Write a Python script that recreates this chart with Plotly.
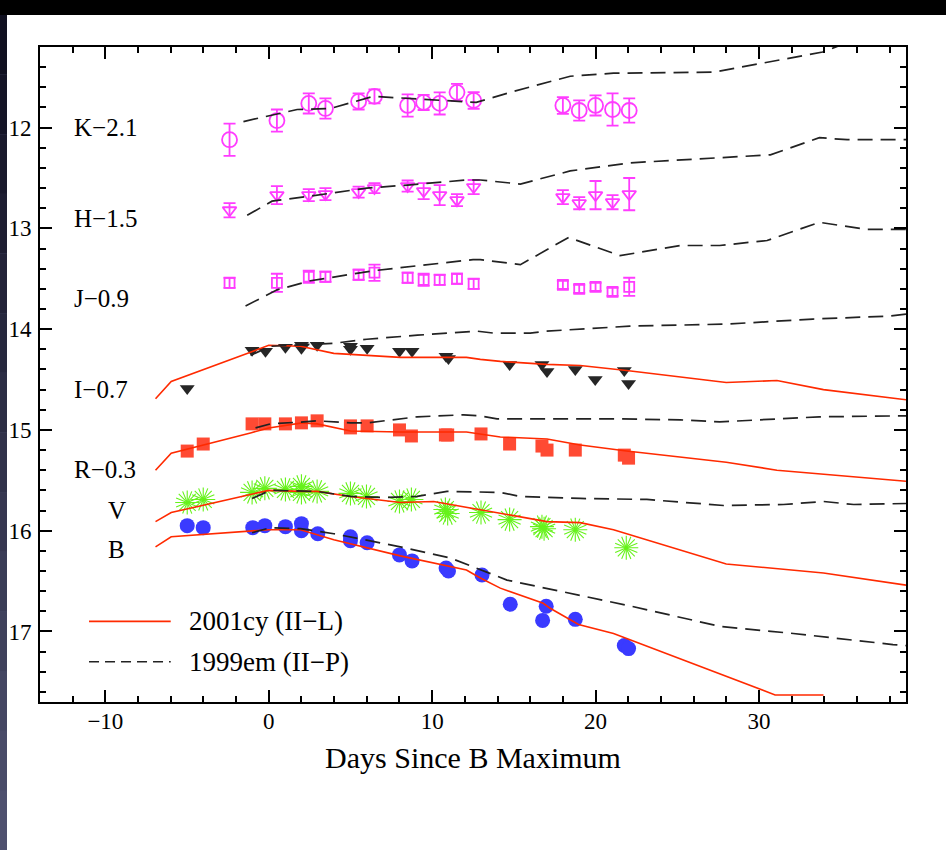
import plotly.graph_objects as go

# ---------------- data ----------------
days_ir = [-2.4, 0.5, 2.45, 3.47, 5.5, 6.47, 8.5, 9.48, 10.46, 11.52, 12.54, 18.0, 19.0, 20.0, 21.04, 22.06]
mag_K = [12.12, 11.93, 11.76, 11.81, 11.74, 11.69, 11.78, 11.75, 11.76, 11.65, 11.73, 11.78, 11.83, 11.78, 11.82, 11.83]
err_K = [0.16, 0.11, 0.10, 0.10, 0.08, 0.07, 0.11, 0.075, 0.11, 0.085, 0.083, 0.083, 0.10, 0.10, 0.16, 0.12]
mag_H = [12.82, 12.67, 12.67, 12.66, 12.64, 12.60, 12.58, 12.63, 12.67, 12.72, 12.59, 12.69, 12.75, 12.67, 12.74, 12.66]
err_H = [0.07, 0.09, 0.06, 0.06, 0.055, 0.05, 0.055, 0.08, 0.10, 0.06, 0.07, 0.07, 0.06, 0.14, 0.07, 0.16]
mag_J = [13.54, 13.54, 13.48, 13.48, 13.46, 13.44, 13.49, 13.51, 13.51, 13.50, 13.55, 13.56, 13.60, 13.58, 13.63, 13.58]
err_J = [0.05, 0.09, 0.06, 0.05, 0.05, 0.08, 0.05, 0.06, 0.05, 0.05, 0.05, 0.04, 0.04, 0.04, 0.04, 0.09]

days_I = [-4.99, -1.02, -0.2, 1.02, 2.0, 2.0, 2.96, 5.0, 5.0, 6.02, 8.0, 8.77, 10.85, 11.0, 14.74, 16.72, 17.03, 18.76, 19.98, 21.76, 22.02]
mag_I = [14.59, 14.21, 14.22, 14.18, 14.16, 14.19, 14.16, 14.17, 14.20, 14.19, 14.22, 14.22, 14.27, 14.29, 14.35, 14.35, 14.42, 14.40, 14.50, 14.41, 14.54]
days_R = [-4.99, -4.01, -1.02, -0.24, 1.02, 2.0, 2.96, 5.0, 5.0, 6.02, 8.0, 8.73, 10.81, 10.95, 12.99, 14.74, 16.72, 17.03, 18.76, 21.76, 22.02]
mag_R = [15.21, 15.14, 14.94, 14.94, 14.94, 14.93, 14.91, 14.96, 14.98, 14.96, 15.00, 15.06, 15.05, 15.05, 15.04, 15.14, 15.16, 15.20, 15.20, 15.25, 15.28]
days_V = [-4.99, -4.01, -1.02, -0.24, 1.02, 2.0, 2.0, 2.96, 5.0, 5.98, 8.0, 8.73, 10.81, 10.95, 12.99, 14.74, 16.72, 16.85, 18.76, 21.88]
mag_V = [15.72, 15.69, 15.62, 15.58, 15.59, 15.56, 15.62, 15.61, 15.63, 15.66, 15.71, 15.69, 15.79, 15.83, 15.82, 15.89, 15.96, 15.98, 15.99, 16.17]
days_B = [-4.99, -4.01, -0.98, -0.24, 1.02, 2.0, 2.0, 3.0, 5.0, 5.0, 6.02, 8.0, 8.77, 10.85, 11.0, 13.05, 14.78, 16.98, 16.76, 18.76, 21.76, 22.02]
mag_B = [15.95, 15.97, 15.97, 15.95, 15.96, 15.93, 16.00, 16.03, 16.06, 16.10, 16.12, 16.24, 16.30, 16.37, 16.40, 16.44, 16.73, 16.75, 16.89, 16.88, 17.14, 17.17]

# 2001cy (II-L) template curves
t01_I = [-6.93, -5.97, -1.12, 0.0, 1.94, 3.98, 8.05, 12.1, 12.95, 14.17, 17.0, 19.06, 21.9, 28.0, 31.1, 33.95, 39.0]
m01_I = [14.69, 14.52, 14.23, 14.16, 14.17, 14.24, 14.28, 14.28, 14.30, 14.32, 14.35, 14.36, 14.41, 14.53, 14.51, 14.60, 14.70]
t01_R = [-6.93, -5.97, -1.12, 0.0, 2.04, 2.96, 5.0, 8.05, 12.1, 12.95, 14.17, 17.03, 19.06, 21.9, 28.0, 31.1, 33.95, 39.0]
m01_R = [15.40, 15.23, 15.03, 14.98, 14.93, 14.94, 15.01, 15.02, 15.02, 15.04, 15.07, 15.09, 15.15, 15.21, 15.32, 15.40, 15.44, 15.51]
t01_V = [-6.93, -5.97, -1.12, 0.0, 1.94, 2.96, 5.0, 8.05, 10.09, 12.95, 14.99, 17.03, 19.06, 21.1, 28.0, 33.95, 39.0]
m01_V = [15.91, 15.82, 15.64, 15.60, 15.61, 15.61, 15.66, 15.72, 15.71, 15.79, 15.85, 15.91, 15.92, 15.99, 16.33, 16.42, 16.54]
t01_B = [-6.93, -5.97, 0.0, 1.94, 3.98, 8.05, 12.1, 12.95, 14.17, 16.8, 17.22, 18.96, 21.1, 30.99, 33.95]
m01_B = [16.16, 16.06, 15.99, 15.99, 16.09, 16.25, 16.39, 16.47, 16.57, 16.72, 16.77, 16.93, 17.02, 17.63, 17.63]

# 1999em (II-P) template curves
t99_K = [-1.55, 1.74, 3.77, 6.4, 12.7, 15.0, 18.45, 21.1, 27.2, 30.3, 33.9, 35.5]
m99_K = [11.94, 11.82, 11.81, 11.69, 11.75, 11.64, 11.49, 11.46, 11.45, 11.36, 11.25, 11.15]
t99_H = [-1.32, 0.2, 2.55, 6.0, 8.5, 12.1, 12.95, 15.4, 18.45, 22.1, 30.7, 33.7, 35.4, 39.0]
m99_H = [12.87, 12.73, 12.68, 12.60, 12.57, 12.52, 12.52, 12.56, 12.43, 12.35, 12.27, 12.10, 12.12, 12.12]
t99_J = [-1.42, 0.51, 2.55, 6.4, 12.5, 12.95, 15.4, 18.35, 21.5, 25.2, 27.6, 30.5, 33.7, 36.6, 39.0]
m99_J = [13.77, 13.61, 13.52, 13.42, 13.31, 13.31, 13.36, 13.09, 13.27, 13.17, 13.17, 13.12, 12.94, 13.01, 13.01]
t99_I = [-1.12, 0.1, 4.0, 6.0, 9.1, 12.75, 13.8, 16.0, 17.0, 22.1, 28.0, 33.3, 38.0, 39.0]
m99_I = [14.26, 14.17, 14.14, 14.10, 14.06, 14.02, 14.04, 14.04, 14.02, 13.97, 13.95, 13.90, 13.87, 13.85]
t99_R = [-0.81, 0.1, 2.14, 2.96, 5.0, 6.02, 9.08, 11.93, 12.95, 13.97, 21.1, 25.2, 27.6, 31.3, 33.7, 39.0]
m99_R = [14.98, 14.94, 14.92, 14.91, 14.93, 14.93, 14.87, 14.85, 14.86, 14.89, 14.89, 14.90, 14.92, 14.89, 14.87, 14.86]
t99_V = [-1.02, 0.1, 2.96, 5.0, 7.03, 9.08, 10.91, 14.17, 15.4, 19.06, 23.14, 27.83, 31.5, 33.95, 35.8, 39.0]
m99_V = [15.68, 15.60, 15.61, 15.66, 15.67, 15.66, 15.61, 15.62, 15.66, 15.68, 15.69, 15.75, 15.74, 15.71, 15.74, 15.73]
t99_B = [-1.02, 0.1, 1.94, 3.98, 8.05, 11.1, 14.58, 21.92, 27.63, 32.1, 38.2, 39.0]
m99_B = [16.02, 15.97, 15.98, 16.03, 16.16, 16.27, 16.49, 16.74, 16.95, 17.02, 17.13, 17.14]

band_labels = ["K\u22122.1", "H\u22121.5", "J\u22120.9", "I\u22120.7", "R\u22120.3", "V", "B"]
band_label_x = [-12.05, -12.05, -12.05, -12.05, -12.05, -9.95, -9.95]
band_label_y = [12.0, 12.9, 13.7, 14.6, 15.39, 15.8, 16.19]

legend_names = ["2001cy (II\u2212L)", "1999em (II\u2212P)"]
legend_y = [16.90, 17.30]

x_range = [-14, 39]
y_range = [17.7, 11.2]

# ---------------- styles ----------------
FONT = "Liberation Serif"
MAGENTA = "#ff3cff"
RED_LINE = "#ff2a00"
DASH = "15px,8px"

fig = go.Figure()

# NIR points with error bars
for m, e, sym, size in [(mag_K, err_K, "circle-open", 15),
                        (mag_H, err_H, "triangle-down-open", 12),
                        (mag_J, err_J, "square-open", 10)]:
    fig.add_trace(go.Scatter(
        x=days_ir, y=m, mode="markers",
        marker=dict(symbol=sym, size=size, color=MAGENTA, line=dict(width=1.8, color=MAGENTA)),
        error_y=dict(type="data", array=e, visible=True, color=MAGENTA, thickness=1.8, width=6),
        showlegend=False))

fig.add_trace(go.Scatter(x=days_I, y=mag_I, mode="markers",
                         marker=dict(symbol="triangle-down", size=13, color="#262626"),
                         showlegend=False))
fig.add_trace(go.Scatter(x=days_R, y=mag_R, mode="markers",
                         marker=dict(symbol="square", size=13, color="#ff4a33"),
                         showlegend=False))
for ang in (0, 22.5):
    fig.add_trace(go.Scatter(x=days_V, y=mag_V, mode="markers",
                             marker=dict(symbol="asterisk-open", size=20, angle=ang, color="#66f21a",
                                         line=dict(width=1.1, color="#66f21a")),
                             showlegend=False))
fig.add_trace(go.Scatter(x=days_B, y=mag_B, mode="markers",
                         marker=dict(symbol="circle", size=15, color="#3a3aff"),
                         showlegend=False))

# template curves drawn over the points
for t, m in [(t01_I, m01_I), (t01_R, m01_R), (t01_V, m01_V), (t01_B, m01_B)]:
    fig.add_trace(go.Scatter(x=t, y=m, mode="lines",
                             line=dict(color=RED_LINE, width=1.6),
                             showlegend=False, hoverinfo="skip"))
for t, m in [(t99_K, m99_K), (t99_H, m99_H), (t99_J, m99_J), (t99_I, m99_I),
             (t99_R, m99_R), (t99_V, m99_V), (t99_B, m99_B)]:
    fig.add_trace(go.Scatter(x=t, y=m, mode="lines",
                             line=dict(color="#222222", width=1.7, dash=DASH),
                             showlegend=False, hoverinfo="skip"))

annotations = []
for txt, x, y in zip(band_labels, band_label_x, band_label_y):
    annotations.append(dict(x=x, y=y, xref="x", yref="y", text=txt, showarrow=False,
                            xanchor="left", yanchor="middle",
                            font=dict(family=FONT, size=25, color="black")))
for txt, y in zip(legend_names, legend_y):
    annotations.append(dict(x=-5.0, y=y, xref="x", yref="y", text=txt, showarrow=False,
                            xanchor="left", yanchor="middle",
                            font=dict(family=FONT, size=27, color="black")))

shapes = [
    dict(type="line", xref="x", yref="y", x0=-11.0, x1=-6.0, y0=legend_y[0], y1=legend_y[0],
         line=dict(color=RED_LINE, width=1.6)),
    dict(type="line", xref="x", yref="y", x0=-11.0, x1=-6.0, y0=legend_y[1], y1=legend_y[1],
         line=dict(color="#222222", width=1.6, dash="10px,6px")),
]

# page decoration: black top bar and dark left strip
W, H = 946, 850
L, R, T, B = 40, 40, 47, 148
pw, ph = W - L - R, H - T - B
def px(p):
    return (p - L) / pw
def py(p):
    return (H - B - p) / ph
shapes.append(dict(type="rect", xref="paper", yref="paper", x0=px(0), x1=px(W), y0=py(15), y1=py(0),
                   fillcolor="black", line=dict(width=0), layer="above"))
shapes.append(dict(type="rect", xref="paper", yref="paper", x0=px(0), x1=px(7), y0=py(H), y1=py(15),
                   fillcolor="rgb(78,80,110)", line=dict(width=0), layer="above"))
nseg = 14
c0 = (16, 16, 32)
c1 = (78, 80, 110)
for i in range(nseg):
    f = i / (nseg - 1)
    col = "rgb(%d,%d,%d)" % tuple(int(c0[k] + (c1[k] - c0[k]) * f) for k in range(3))
    y_top = 15 + (H - 15) * i / nseg
    y_bot = 15 + (H - 15) * (i + 1) / nseg
    shapes.append(dict(type="rect", xref="paper", yref="paper", x0=px(0), x1=px(7),
                       y0=py(y_bot), y1=py(y_top), fillcolor=col, line=dict(width=0), layer="above"))

axis_common = dict(showline=True, linecolor="black", linewidth=2, mirror="ticks",
                   ticks="inside", ticklen=12, tickwidth=1.5, tickcolor="black",
                   showgrid=False, zeroline=False, automargin=False,
                   tickfont=dict(family=FONT, size=23, color="black"))

fig.update_layout(
    width=W, height=H,
    margin=dict(l=L, r=R, t=T, b=B),
    paper_bgcolor="white", plot_bgcolor="white",
    showlegend=False,
    xaxis=dict(range=x_range, tick0=0, dtick=10,
               minor=dict(tick0=0, dtick=2, ticks="inside", ticklen=6, tickwidth=1.5, tickcolor="black"),
               ticklabelstandoff=-3,
               title=dict(text="Days Since B Maximum", font=dict(family=FONT, size=30, color="black"),
                          standoff=14),
               **axis_common),
    yaxis=dict(range=y_range, tick0=0, dtick=1,
               minor=dict(tick0=0, dtick=0.2, ticks="inside", ticklen=6, tickwidth=1.5, tickcolor="black"),
               ticklabelstandoff=2,
               **axis_common),
    annotations=annotations,
    shapes=shapes,
)

fig.write_html("out.html", config={"displayModeBar": False},
               post_script="document.body.style.margin='0px';document.body.style.overflow='hidden';")
